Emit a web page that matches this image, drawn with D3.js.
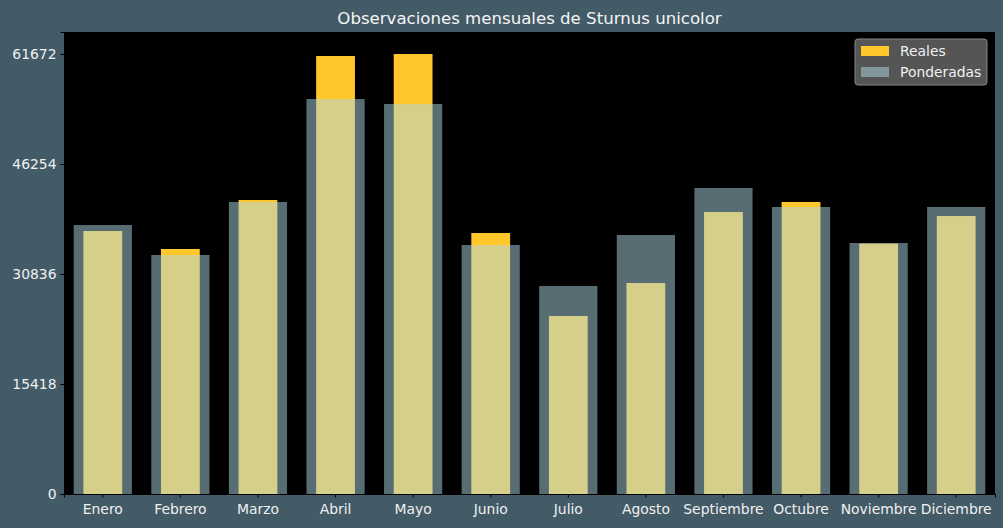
<!DOCTYPE html>
<html><head><meta charset="utf-8">
<script src="https://cdn.jsdelivr.net/npm/d3@7"></script>
<style>body{margin:0;background:#435a67;} svg{display:block;}</style>
</head><body>
<svg id="c" width="1003" height="528"></svg>
<script>
const categories = ["Enero","Febrero","Marzo","Abril","Mayo","Junio","Julio","Agosto","Septiembre","Octubre","Noviembre","Diciembre"];
const reales = [36860, 34340, 41210, 61390, 61672, 36580, 24950, 29570, 39520, 40930, 35100, 38960];
const ponderadas = [37700, 33500, 40930, 55360, 54660, 34900, 29150, 36300, 42890, 40230, 35180, 40230];
const yTicks = [0, 15418, 30836, 46254, 61672];
const title = "Observaciones mensuales de Sturnus unicolor";

const svg = d3.select("#c");
const W = 1003, H = 528;
const m = {left: 64, right: 8, top: 32, bottom: 34};
const iw = W - m.left - m.right, ih = H - m.top - m.bottom;

svg.append("rect").attr("width", W).attr("height", H).attr("fill", "#435a67");
const g = svg.append("g").attr("transform", `translate(${m.left},${m.top})`);
g.append("rect").attr("width", iw).attr("height", ih).attr("fill", "#000");

const x = d3.scaleBand().domain(categories).range([0, iw]).padding(0);
const y = d3.scaleLinear().domain([0, d3.max(reales) * 1.05]).range([ih, 0]);
const step = x.bandwidth();

g.selectAll(".real").data(categories).join("rect")
  .attr("x", (d) => x(d) + step * 0.25)
  .attr("width", step * 0.5)
  .attr("y", (d, i) => y(reales[i]))
  .attr("height", (d, i) => ih - y(reales[i]))
  .attr("fill", "#ffc72c");

g.selectAll(".pond").data(categories).join("rect")
  .attr("x", (d) => x(d) + step * 0.125)
  .attr("width", step * 0.75)
  .attr("y", (d, i) => y(ponderadas[i]))
  .attr("height", (d, i) => ih - y(ponderadas[i]))
  .attr("fill", "#add8e6").attr("fill-opacity", 0.5);

const font = "DejaVu Sans, sans-serif";
const xa = g.append("g").attr("transform", `translate(0,${ih})`)
  .call(d3.axisBottom(x).tickSize(3.5).tickPadding(6.5));
const ya = g.append("g").call(d3.axisLeft(y).tickValues(yTicks).tickFormat(d3.format("d")).tickSize(3.5).tickPadding(4));
[xa, ya].forEach(a => {
  a.select(".domain").attr("stroke", "#000").attr("stroke-width", 1);
  a.selectAll(".tick line").attr("stroke", "#000").attr("stroke-width", 1);
  a.selectAll("text").attr("fill", "#f0f0f0").style("font-family", font).style("font-size", "13.9px");
});

svg.append("text").attr("x", m.left + iw / 2).attr("y", 24).attr("text-anchor", "middle")
  .attr("fill", "#f5f5f5").style("font-family", font).style("font-size", "16.6px").text(title);

// legend
const lg = svg.append("g").attr("transform", "translate(855,39)");
lg.append("rect").attr("width", 132).attr("height", 46).attr("rx", 3)
  .attr("fill", "#555555").attr("stroke", "#888").attr("stroke-width", 1);
const items = [["Reales", "#ffc72c", 1], ["Ponderadas", "#add8e6", 0.5]];
items.forEach((it, i) => {
  const row = lg.append("g").attr("transform", `translate(6,${7 + i * 21})`);
  row.append("rect").attr("width", 28).attr("height", 10).attr("fill", it[1]).attr("fill-opacity", it[2]);
  row.append("text").attr("x", 39).attr("y", 10).attr("fill", "#f0f0f0")
    .style("font-family", font).style("font-size", "13.9px").text(it[0]);
});
</script>
</body></html>
